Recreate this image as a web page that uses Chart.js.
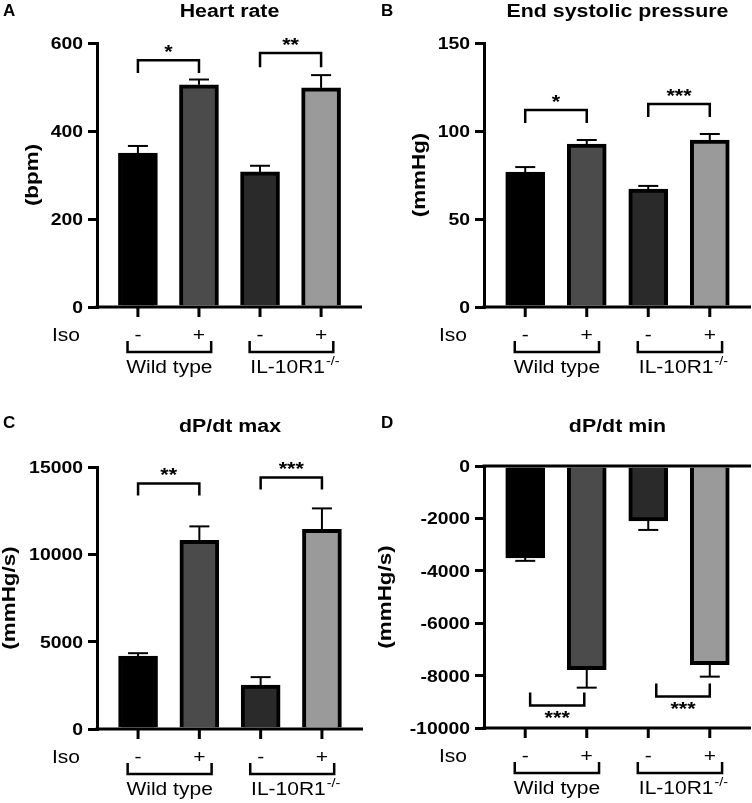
<!DOCTYPE html>
<html lang="en">
<head>
    <meta charset="UTF-8">
    <script src="https://cdn.jsdelivr.net/npm/chart.js"></script>
    <title>Hemodynamics</title>
    <style>
    body {
        margin: 0;
        background-color: white;
    }
    #wrap {
        position: relative;
        width: 752px;
        height: 803px;
    }
    #wrap canvas {
        position: absolute;
    }
</style>
</head>
<body>
    <div id="wrap">
        <canvas id="chartA" width="376" height="400" style="left:0;top:0"></canvas>
        <canvas id="chartB" width="376" height="400" style="left:376px;top:0"></canvas>
        <canvas id="chartC" width="376" height="403" style="left:0;top:400px"></canvas>
        <canvas id="chartD" width="376" height="403" style="left:376px;top:400px"></canvas>
    </div>

    <script>
        // Groups and treatment signs under each bar
        const groupNames = ['Wild type', 'IL-10R1'];
        const isoSigns = ['-', '+', '-', '+'];
        const barColors = ['#000000', '#4b4b4b', '#2a2a2a', '#9a9a9a'];

        // Mean values and SEM
        const heartRate = [350, 505, 307, 498];
        const heartRateErr = [16, 12, 14, 29];
        const espValues = [76.7, 92.6, 67, 94.9];
        const espErr = [2.8, 2.3, 1.8, 3.4];
        const dpMaxValues = [4170, 10800, 2510, 11430];
        const dpMaxErr = [170, 800, 460, 1200];
        const dpMinValues = [-3505, -7770, -2095, -7580];
        const dpMinErr = [115, 690, 345, 460];

        const FONT = '"Liberation Sans", Arial, sans-serif';

        // One entry per panel
        const panels = [
            { id: 'chartA', letter: 'A', title: 'Heart rate', yTitle: '(bpm)',
              values: heartRate, errors: heartRateErr, min: 0, max: 600, step: 200,
              area: [97, 43, 362, 307], yTitleX: 33, titleY: 17, letterX: 3, letterY: 16,
              sig: [ { from: 0, to: 1, text: '*', line: 561, leg: 532 },
                     { from: 2, to: 3, text: '**', line: 577, leg: 545 } ] },
            { id: 'chartB', letter: 'B', title: 'End systolic pressure', yTitle: '(mmHg)',
              values: espValues, errors: espErr, min: 0, max: 150, step: 50,
              area: [108, 43, 375, 307], yTitleX: 44, titleY: 17, letterX: 5, letterY: 16,
              sig: [ { from: 0, to: 1, text: '*', line: 112, leg: 104.5 },
                     { from: 2, to: 3, text: '***', line: 115.3, leg: 108 } ] },
            { id: 'chartC', letter: 'C', title: 'dP/dt max', yTitle: '(mmHg/s)',
              values: dpMaxValues, errors: dpMaxErr, min: 0, max: 15000, step: 5000,
              area: [97, 67, 363, 329], yTitleX: 10, titleY: 32, letterX: 3, letterY: 28,
              sig: [ { from: 0, to: 1, text: '**', line: 14057, leg: 13371 },
                     { from: 2, to: 3, text: '***', line: 14400, leg: 13714 } ] },
            { id: 'chartD', letter: 'D', title: 'dP/dt min', yTitle: '(mmHg/s)',
              values: dpMinValues, errors: dpMinErr, min: -10000, max: 0, step: 2000,
              area: [108, 66, 375, 328], yTitleX: 10, titleY: 32, letterX: 5, letterY: 28,
              sig: [ { from: 0.08, to: 0.96, text: '***', line: -9143, leg: -8648, below: true },
                     { from: 2.13, to: 3.0, text: '***', line: -8800, leg: -8305, below: true } ] }
        ];

        function seg(ctx, x1, y1, x2, y2) {
            ctx.beginPath();
            ctx.moveTo(x1, y1);
            ctx.lineTo(x2, y2);
            ctx.stroke();
        }

        // Text with a horizontal stretch, the figure font is wider than Arial
        function txt(ctx, s, x, y, size, weight, align, sx, rot) {
            ctx.save();
            ctx.translate(x, y);
            if (rot) ctx.rotate(rot);
            ctx.scale(sx, 1);
            ctx.font = weight + ' ' + size + 'px ' + FONT;
            ctx.textAlign = align;
            ctx.textBaseline = rot ? 'middle' : 'alphabetic';
            ctx.fillStyle = '#000';
            ctx.fillText(s, 0, 0);
            const w = ctx.measureText(s).width * sx;
            ctx.restore();
            return w;
        }

        function makeDecor(p) {
            return {
                id: 'decor' + p.letter,
                afterDraw(chart) {
                    const ctx = chart.ctx;
                    const a = chart.chartArea;
                    const xs = chart.scales.x;
                    const ys = chart.scales.y;
                    ctx.save();
                    ctx.strokeStyle = '#000';
                    ctx.lineCap = 'butt';

                    // x axis line(s)
                    const base = ys.getPixelForValue(p.min);
                    ctx.lineWidth = 3;
                    seg(ctx, a.left - 1.5, base, a.right, base);
                    if (p.max === 0) {
                        const zero = ys.getPixelForValue(0);
                        seg(ctx, a.left - 1.5, zero, a.right, zero);
                    }
                    isoSigns.forEach((s, i) => {
                        const x = xs.getPixelForValue(i);
                        seg(ctx, x, base, x, base + 10);
                    });

                    // error bars
                    ctx.lineWidth = 2;
                    p.values.forEach((v, i) => {
                        const x = xs.getPixelForValue(i);
                        const dir = v < 0 ? -1 : 1;
                        const y0 = ys.getPixelForValue(v);
                        const y1 = ys.getPixelForValue(v + dir * p.errors[i]);
                        seg(ctx, x, y0, x, y1);
                        seg(ctx, x - 10, y1, x + 10, y1);
                    });

                    // significance brackets
                    ctx.lineWidth = 2.5;
                    p.sig.forEach(s => {
                        const x1 = xs.getPixelForValue(s.from);
                        const x2 = xs.getPixelForValue(s.to);
                        const yl = ys.getPixelForValue(s.line);
                        const yg = ys.getPixelForValue(s.leg);
                        ctx.beginPath();
                        ctx.moveTo(x1, yg);
                        ctx.lineTo(x1, yl);
                        ctx.lineTo(x2, yl);
                        ctx.lineTo(x2, yg);
                        ctx.stroke();
                        const sy = s.below ? yl + 18 : yl - 2;
                        txt(ctx, s.text, (x1 + x2) / 2, sy, 18, 'bold', 'center', 1.2);
                    });

                    // y tick labels
                    ys.ticks.forEach(t => {
                        txt(ctx, String(t.value), a.left - 14, ys.getPixelForValue(t.value) + 6, 17, 'bold', 'right', 1.14);
                    });

                    // y axis title
                    txt(ctx, p.yTitle, p.yTitleX, (a.top + a.bottom) / 2, 17.5, 'bold', 'center', 1.28, -Math.PI / 2);

                    // panel title and letter
                    txt(ctx, p.title, (a.left + a.right) / 2, p.titleY, 17.5, 'bold', 'center', 1.22);
                    txt(ctx, p.letter, p.letterX, p.letterY, 17, 'bold', 'left', 1);

                    // Iso row
                    txt(ctx, 'Iso', a.left - 31, base + 34, 17.5, 'normal', 'center', 1.2);
                    isoSigns.forEach((s, i) => {
                        txt(ctx, s, xs.getPixelForValue(i), base + 34, 17.5, 'normal', 'center', 1.2);
                    });

                    // group brackets and names
                    ctx.lineWidth = 2.5;
                    groupNames.forEach((g, k) => {
                        const x1 = xs.getPixelForValue(k * 2 - 0.17);
                        const x2 = xs.getPixelForValue(k * 2 + 1 + 0.2);
                        ctx.beginPath();
                        ctx.moveTo(x1, base + 34);
                        ctx.lineTo(x1, base + 45);
                        ctx.lineTo(x2, base + 45);
                        ctx.lineTo(x2, base + 34);
                        ctx.stroke();
                        const cx = (x1 + x2) / 2;
                        if (k === 0) {
                            txt(ctx, g, cx, base + 66, 17.5, 'normal', 'center', 1.2);
                        } else {
                            ctx.save();
                            ctx.font = 'normal 17.5px ' + FONT;
                            const w1 = ctx.measureText(g).width * 1.2;
                            ctx.font = 'normal 12px ' + FONT;
                            const w2 = ctx.measureText('-/-').width * 1.2;
                            ctx.restore();
                            const left = cx - (w1 + w2) / 2 + 3;
                            txt(ctx, g, left, base + 66, 17.5, 'normal', 'left', 1.2);
                            txt(ctx, '-/-', left + w1 + 1, base + 58, 12, 'normal', 'left', 1.2);
                        }
                    });
                    ctx.restore();
                }
            };
        }

        panels.forEach(p => {
            const canvas = document.getElementById(p.id);
            const W = canvas.width, H = canvas.height;
            new Chart(canvas, {
                type: 'bar',
                data: {
                    datasets: [{
                        data: p.values.map((v, i) => ({ x: i, y: v })),
                        backgroundColor: barColors,
                        borderColor: '#000',
                        borderWidth: 4,
                        barThickness: 39
                    }]
                },
                options: {
                    responsive: false,
                    animation: false,
                    layout: {
                        padding: { left: 0, top: p.area[1], right: W - p.area[2], bottom: H - p.area[3] }
                    },
                    plugins: {
                        legend: { display: false },
                        tooltip: { enabled: false }
                    },
                    scales: {
                        x: { type: 'linear', min: -0.67, max: 3.67, offset: false, display: false },
                        y: {
                            min: p.min,
                            max: p.max,
                            ticks: { stepSize: p.step, display: false },
                            afterFit(s) { s.width = p.area[0]; },
                            grid: { drawOnChartArea: false, drawTicks: true, tickLength: 9, lineWidth: 3, color: '#000' },
                            border: { display: true, width: 3, color: '#000' }
                        }
                    }
                },
                plugins: [makeDecor(p)]
            });
        });
    </script>
</body>
</html>
